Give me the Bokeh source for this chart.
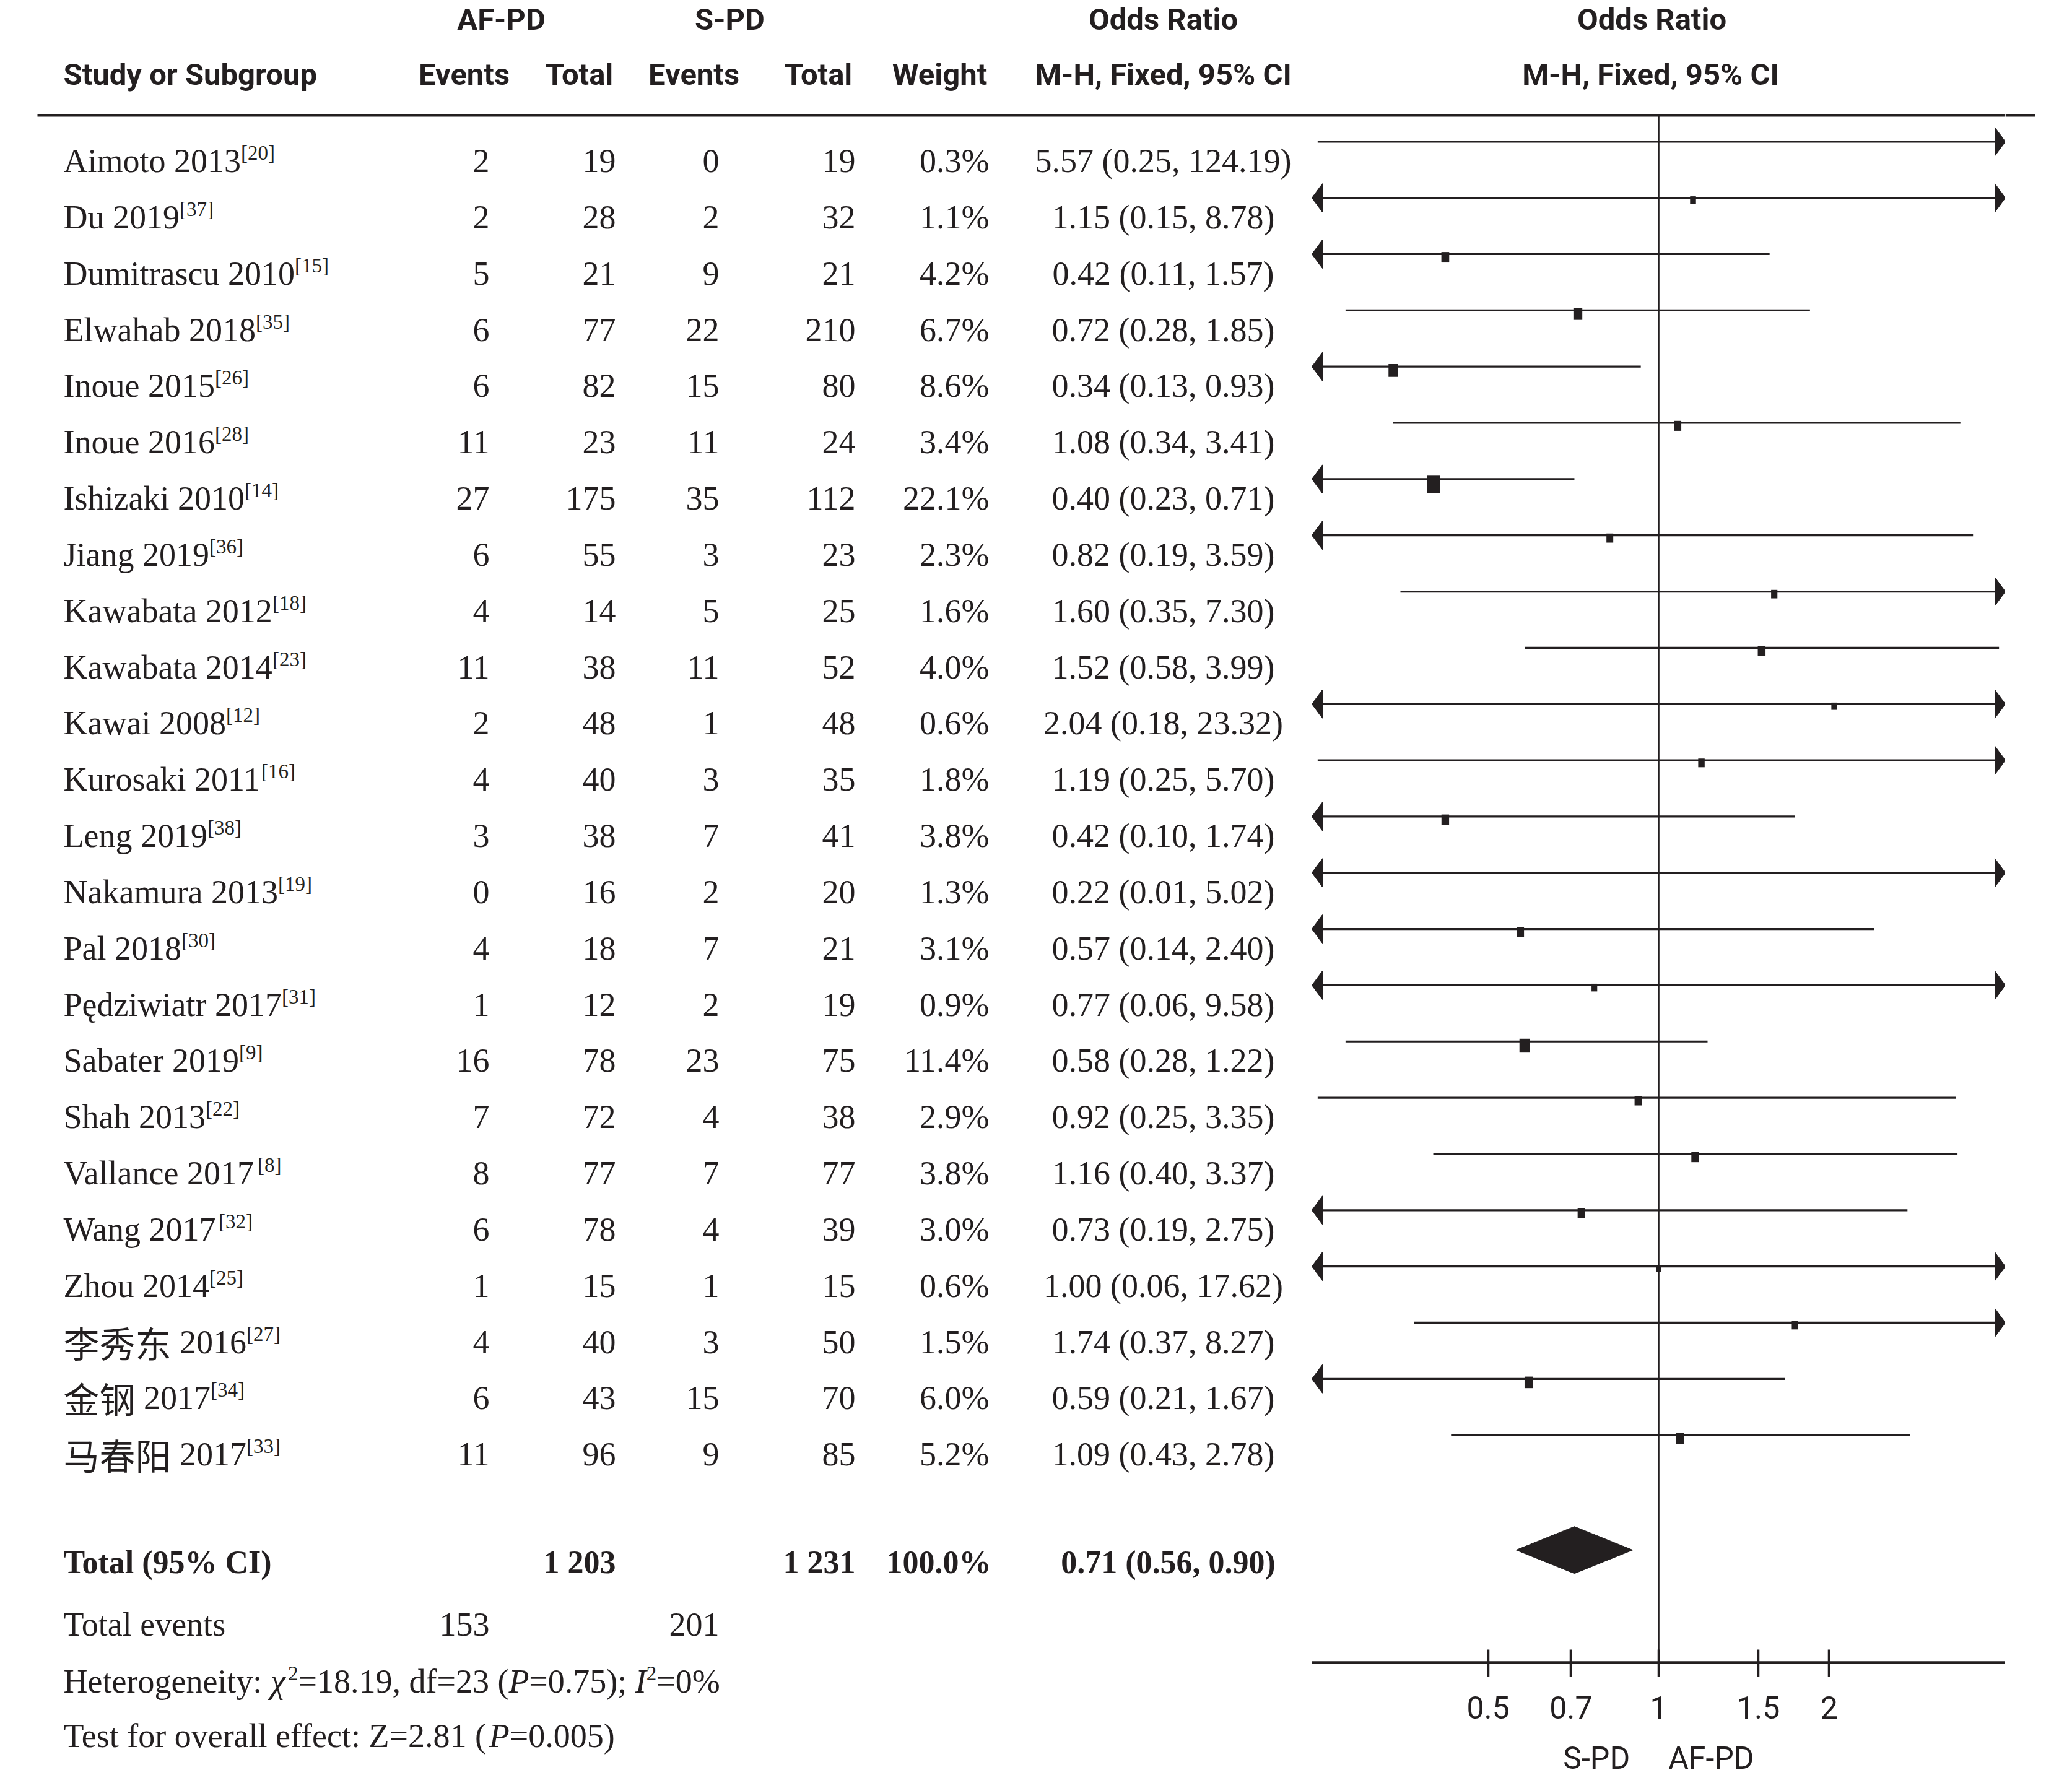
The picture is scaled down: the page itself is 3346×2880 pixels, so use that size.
import math
from bokeh.plotting import figure
from bokeh.layouts import row
from bokeh.models import Range1d, FixedTicker, CustomJSTickFormatter, ColumnDataSource
from bokeh.core.properties import value
from bokeh.embed import file_html
from bokeh.resources import INLINE

# ---------------- data ----------------
study_names = ["Aimoto 2013", "Du 2019", "Dumitrascu 2010", "Elwahab 2018", "Inoue 2015",
               "Inoue 2016", "Ishizaki 2010", "Jiang 2019", "Kawabata 2012", "Kawabata 2014",
               "Kawai 2008", "Kurosaki 2011", "Leng 2019", "Nakamura 2013", "Pal 2018",
               "Pędziwiatr 2017", "Sabater 2019", "Shah 2013", "Vallance 2017", "Wang 2017",
               "Zhou 2014", "李秀东 2016", "金钢 2017", "马春阳 2017"]
study_refs = ["20", "37", "15", "35", "26", "28", "14", "36", "18", "23", "12", "16",
              "38", "19", "30", "31", "9", "22", "8", "32", "25", "27", "34", "33"]
af_events = [2, 2, 5, 6, 6, 11, 27, 6, 4, 11, 2, 4, 3, 0, 4, 1, 16, 7, 8, 6, 1, 4, 6, 11]
af_total = [19, 28, 21, 77, 82, 23, 175, 55, 14, 38, 48, 40, 38, 16, 18, 12, 78, 72, 77, 78, 15, 40, 43, 96]
s_events = [0, 2, 9, 22, 15, 11, 35, 3, 5, 11, 1, 3, 7, 2, 7, 2, 23, 4, 7, 4, 1, 3, 15, 9]
s_total = [19, 32, 21, 210, 80, 24, 112, 23, 25, 52, 48, 35, 41, 20, 21, 19, 75, 38, 77, 39, 15, 50, 70, 85]
weights = [0.3, 1.1, 4.2, 6.7, 8.6, 3.4, 22.1, 2.3, 1.6, 4.0, 0.6, 1.8, 3.8, 1.3, 3.1, 0.9,
           11.4, 2.9, 3.8, 3.0, 0.6, 1.5, 6.0, 5.2]
or_est = [5.57, 1.15, 0.42, 0.72, 0.34, 1.08, 0.40, 0.82, 1.60, 1.52, 2.04, 1.19, 0.42, 0.22,
          0.57, 0.77, 0.58, 0.92, 1.16, 0.73, 1.00, 1.74, 0.59, 1.09]
ci_low = [0.25, 0.15, 0.11, 0.28, 0.13, 0.34, 0.23, 0.19, 0.35, 0.58, 0.18, 0.25, 0.10, 0.01,
          0.14, 0.06, 0.28, 0.25, 0.40, 0.19, 0.06, 0.37, 0.21, 0.43]
ci_high = [124.19, 8.78, 1.57, 1.85, 0.93, 3.41, 0.71, 3.59, 7.30, 3.99, 23.32, 5.70, 1.74, 5.02,
           2.40, 9.58, 1.22, 3.35, 3.37, 2.75, 17.62, 8.27, 1.67, 2.78]
total_weight = 100.0
total_or, total_low, total_high = 0.71, 0.56, 0.90
het_chi2, het_df, het_p, het_i2 = "18.19", "23", "0.75", "0"
overall_z, overall_p = "2.81", "0.005"
tick_values = [0.5, 0.7, 1, 1.5, 2]
favours_left, favours_right = "S-PD", "AF-PD"

# ---------------- style / layout ----------------
INK = "#231f20"
SERIF = "Liberation Serif"
CJK = "Noto Sans CJK SC"
SANS = "Roboto"

PAGE_W, PAGE_H = 3330, 2864
ROW0, PITCH = 260.3, 90.84


def row_at(py):
    return (py - ROW0) / PITCH


TOP = row_at(0)
BOTTOM = row_at(PAGE_H)
HDR1, HDR2, RULE = row_at(32), row_at(121.6), row_at(185.7)
TOTAL_ROW, EVENTS_ROW = row_at(2524.5), row_at(2624.8)
HET_ROW, TEST_ROW = row_at(2716.6), row_at(2804)
FRAME_H = 2685
AXIS_ROW = row_at(FRAME_H)
DIAMOND_ROW = row_at(2503.2)
FOREST_SHIFT = -0.352

X_ONE, PPD = 2678.0, 914.6
SPLIT = 2118.0
FOREST_RIGHT = 2 * X_ONE - SPLIT
LO = 10 ** ((SPLIT - X_ONE) / PPD)
HI = 10 ** ((FOREST_RIGHT - X_ONE) / PPD)

BODY = 54
SUP = 33
SUP_RISE = 13
HEAD = 49
TICKF = 50
FIX = 0.206
B_SERIF = 0.197 - FIX
B_SANS = 0.19 - FIX

# Times-compatible advance widths (Liberation Serif), per 1000 em
TR = {' ': 250, '%': 833, '(': 333, ')': 333, ',': 250, '-': 333, '.': 250, ':': 278, ';': 278,
      '=': 564, '[': 333, ']': 333, 'A': 722, 'B': 667, 'C': 667, 'D': 722, 'E': 611, 'F': 556,
      'G': 722, 'H': 722, 'I': 333, 'J': 389, 'K': 722, 'L': 611, 'M': 889, 'N': 722, 'O': 722,
      'P': 556, 'Q': 722, 'R': 667, 'S': 556, 'T': 611, 'U': 722, 'V': 722, 'W': 944, 'X': 722,
      'Y': 722, 'Z': 611, 'a': 444, 'b': 500, 'c': 444, 'd': 500, 'e': 444, 'f': 333, 'g': 500,
      'h': 500, 'i': 278, 'j': 278, 'k': 500, 'l': 278, 'm': 778, 'n': 500, 'o': 500, 'p': 500,
      'q': 500, 'r': 333, 's': 389, 't': 278, 'u': 500, 'v': 500, 'w': 722, 'x': 500, 'y': 500,
      'z': 444, 'ę': 444}
for _d in "0123456789":
    TR[_d] = 500
TI = dict(TR)
TI.update({'P': 611, 'I': 333, 'Z': 556, 'χ': 520})


def text_width(s, font, size, style):
    if font == CJK:
        return len(s) * size
    tbl = TI if "italic" in style else TR
    return sum(tbl.get(c, 500) for c in s) * size / 1000.0


class Layer:
    def __init__(self):
        self.groups = {}

    def add(self, x, y, text, font=SERIF, size=BODY, style="normal", align="left", xo=0.0):
        key = (font, size, style, align)
        g = self.groups.setdefault(key, dict(x=[], y=[], text=[], xo=[]))
        g["x"].append(x)
        g["y"].append(y)
        g["text"].append(text)
        g["xo"].append(xo)

    def rich(self, x, yrow, segments):
        cx = x
        for text, font, size, style, rise in segments:
            stripped = text.lstrip(" ")
            cx += text_width(text[:len(text) - len(stripped)], font, size, style)
            if stripped:
                self.add(cx, yrow - rise / PITCH, stripped.rstrip(" "), font, size, style)
            cx += text_width(stripped, font, size, style)
        return cx

    def render(self, p):
        for (font, size, style, align), g in self.groups.items():
            p.text(x="x", y="y", text="text", x_offset="xo", source=ColumnDataSource(g),
                   text_font=value(font), text_font_size=value(f"{size}px"),
                   text_font_style=value(style), text_align=value(align),
                   text_baseline=value("alphabetic"), text_color=INK)


def base_fig(fw, fh, xr, yr, **kw):
    p = figure(frame_width=fw, frame_height=fh, x_range=xr, y_range=yr,
               toolbar_location=None, output_backend="svg", min_border=0,
               outline_line_color=None, background_fill_color="white",
               border_fill_color="white", **kw)
    p.xgrid.visible = False
    p.ygrid.visible = False
    return p


# ---------------- left table ----------------
p1 = base_fig(int(SPLIT), PAGE_H, Range1d(0, SPLIT), Range1d(BOTTOM, TOP),
              x_axis_location=None, y_axis_location=None)
L = Layer()
NAME_X, AFE_X, AFT_X, SE_X, ST_X, W_X, OR_X = 102, 790, 994, 1161, 1381, 1597, 1878

# headers
hb1, hb2 = HDR1 + B_SANS, HDR2 + B_SANS
L.add(809, hb1, "AF-PD", SANS, HEAD, "bold", "center")
L.add(1178, hb1, "S-PD", SANS, HEAD, "bold", "center")
L.add(OR_X, hb1, "Odds Ratio", SANS, HEAD, "bold", "center")
L.add(NAME_X, hb2, "Study or Subgroup", SANS, HEAD, "bold", "left")
for cx, t in [(749, "Events"), (935, "Total"), (1120, "Events"), (1321, "Total"),
              (1517, "Weight"), (OR_X, "M-H, Fixed, 95% CI")]:
    L.add(cx, hb2, t, SANS, HEAD, "bold", "center")

# study rows
for i, name in enumerate(study_names):
    yb = i + B_SERIF
    if ord(name[0]) > 0x2E80:
        cjk, year = name.split(" ", 1)
        segs = [(cjk, CJK, 58, "normal", 0), (" " + year, SERIF, BODY, "normal", 0)]
    else:
        segs = [(name, SERIF, BODY, "normal", 0)]
    segs.append(("[" + study_refs[i] + "]", SERIF, SUP, "normal", SUP_RISE))
    L.rich(NAME_X, yb, segs)
    L.add(AFE_X, yb, str(af_events[i]), align="right")
    L.add(AFT_X, yb, str(af_total[i]), align="right")
    L.add(SE_X, yb, str(s_events[i]), align="right")
    L.add(ST_X, yb, str(s_total[i]), align="right")
    L.add(W_X, yb, f"{weights[i]:.1f}%", align="right")
    L.add(OR_X, yb, f"{or_est[i]:.2f} ({ci_low[i]:.2f}, {ci_high[i]:.2f})", align="center")


def spaced(n):
    return f"{n:,}".replace(",", " ")


tb = TOTAL_ROW + 0.19 - FIX
L.add(NAME_X, tb, "Total (95% CI)", SERIF, 52, "bold")
L.add(AFT_X, tb, spaced(sum(af_total)), SERIF, 52, "bold", "right")
L.add(ST_X, tb, spaced(sum(s_total)), SERIF, 52, "bold", "right")
L.add(1600, tb, f"{total_weight:.1f}%", SERIF, 52, "bold", "right")
L.add(1886, tb, f"{total_or:.2f} ({total_low:.2f}, {total_high:.2f})", SERIF, 52, "bold", "center")

eb = EVENTS_ROW + B_SERIF
L.add(NAME_X, eb, "Total events")
L.add(AFE_X, eb, str(sum(af_events)), align="right")
L.add(SE_X, eb, str(sum(s_events)), align="right")

L.rich(NAME_X, HET_ROW + B_SERIF, [
    ("Heterogeneity: ", SERIF, BODY, "normal", 0),
    ("χ", SERIF, BODY, "italic", 0),
    ("2", SERIF, SUP, "normal", SUP_RISE),
    (f"={het_chi2}, df={het_df} (", SERIF, BODY, "normal", 0),
    ("P", SERIF, BODY, "italic", 0),
    (f"={het_p}); ", SERIF, BODY, "normal", 0),
    ("I", SERIF, BODY, "italic", 0),
    ("2", SERIF, SUP, "normal", SUP_RISE),
    (f"={het_i2}%", SERIF, BODY, "normal", 0),
])
L.rich(NAME_X, TEST_ROW + B_SERIF, [
    (f"Test for overall effect: Z={overall_z} (", SERIF, BODY, "normal", 0),
    ("P", SERIF, BODY, "italic", 0),
    (f"={overall_p})", SERIF, BODY, "normal", 0),
])

p1.segment(x0=[60], y0=[RULE], x1=[SPLIT], y1=[RULE], line_color=INK, line_width=4.5)
L.render(p1)

# ---------------- forest ----------------
p2 = base_fig(int(FOREST_RIGHT - SPLIT), FRAME_H, Range1d(LO, HI), Range1d(AXIS_ROW, TOP),
              x_axis_type="log", y_axis_location=None)

ys = [i + FOREST_SHIFT for i in range(len(study_names))]
x0 = [max(v, LO) for v in ci_low]
x1 = [min(v, HI) for v in ci_high]
p2.segment(x0=[LO], y0=[RULE], x1=[HI], y1=[RULE], line_color=INK, line_width=4.5)
p2.segment(x0=[1], y0=[RULE], x1=[1], y1=[AXIS_ROW], line_color=INK, line_width=2.6)
p2.segment(x0=x0, y0=ys, x1=x1, y1=ys, line_color=INK, line_width=3.2)

AL, AH = 17.0, 23.0
k = 10 ** (AL / PPD)
dh = AH / PITCH
axs, ays = [], []
for i in range(len(study_names)):
    if ci_high[i] > HI:
        axs.append([HI, HI / k, HI / k])
        ays.append([ys[i], ys[i] - dh, ys[i] + dh])
    if ci_low[i] < LO:
        axs.append([LO, LO * k, LO * k])
        ays.append([ys[i], ys[i] - dh, ys[i] + dh])
p2.patches(xs=axs, ys=ays, fill_color=INK, line_color=INK, line_width=1)

sw = [6.2 + 3.15 * math.sqrt(w) for w in weights]
sh = [1.3 * s + 0.5 for s in sw]
sy = [ys[i] + 0.3 * sh[i] / PITCH for i in range(len(ys))]
p2.rect(x=or_est, y=sy, width=sw, height=sh, width_units="screen", height_units="screen",
        fill_color=INK, line_color=None)

DH = 38.0 / PITCH
p2.patch(x=[total_low, total_or, total_high, total_or],
         y=[DIAMOND_ROW, DIAMOND_ROW - DH, DIAMOND_ROW, DIAMOND_ROW + DH],
         fill_color=INK, line_color=INK, line_width=1)

R = Layer()
R.add(1, HDR1 + B_SANS, "Odds Ratio", SANS, HEAD, "bold", "center", -11)
R.add(1, HDR2 + B_SANS, "M-H, Fixed, 95% CI", SANS, HEAD, "bold", "center", -13)
R.render(p2)

xa = p2.xaxis[0]
xa.ticker = FixedTicker(ticks=tick_values, minor_ticks=[])
xa.formatter = CustomJSTickFormatter(code="return String(tick);")
xa.axis_line_color = INK
xa.axis_line_width = 4.5
xa.major_tick_line_color = INK
xa.major_tick_line_width = 3.5
xa.major_tick_in = 21
xa.major_tick_out = 23
xa.minor_tick_line_color = None
xa.major_label_text_font = SANS
xa.major_label_text_font_size = f"{TICKF}px"
xa.major_label_text_color = INK
xa.major_label_standoff = 31
xa.axis_label = favours_left + "\u00a0" * 5 + favours_right
xa.axis_label_text_font = SANS
xa.axis_label_text_font_size = f"{TICKF}px"
xa.axis_label_text_font_style = "normal"
xa.axis_label_text_color = INK
xa.axis_label_standoff = 32

# ---------------- tail (rule overhang) ----------------
p3 = base_fig(int(PAGE_W - FOREST_RIGHT), PAGE_H, Range1d(FOREST_RIGHT, PAGE_W),
              Range1d(BOTTOM, TOP), x_axis_location=None, y_axis_location=None)
p3.segment(x0=[FOREST_RIGHT], y0=[RULE], x1=[3286], y1=[RULE], line_color=INK, line_width=4.5)

layout = row(p1, p2, p3)
open("out.html", "w").write(file_html(layout, INLINE))
